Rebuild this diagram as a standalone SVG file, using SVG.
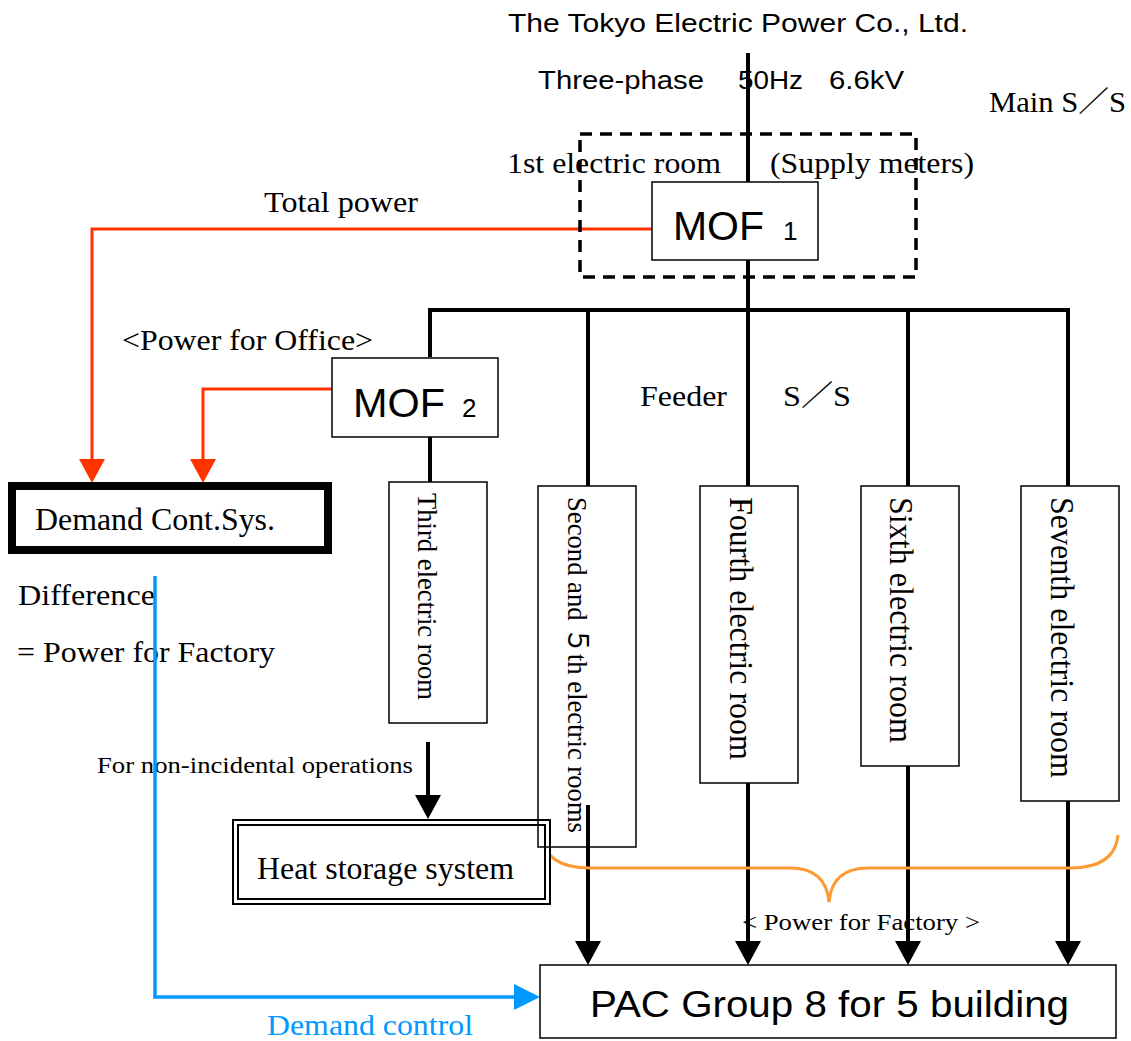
<svg xmlns="http://www.w3.org/2000/svg" width="1131" height="1041" viewBox="0 0 1131 1041">
<style>
.bg{fill:#fff}
.box{fill:#fff;stroke:#000;stroke-width:1.5}
.room{fill:none;stroke:#000;stroke-width:1.5}
.wire{fill:none;stroke:#000;stroke-width:4}
.red{fill:none;stroke:#ff3300;stroke-width:3}
.blue{fill:none;stroke:#0099ff;stroke-width:3.5}
.brace{fill:none;stroke:#ff9933;stroke-width:3}
.serif{font-family:"Liberation Serif","Noto Sans CJK JP",serif;fill:#000}
.sans{font-family:"Liberation Sans","Noto Sans CJK JP",sans-serif;fill:#000}
</style>
<defs>
<marker id="ab" markerUnits="userSpaceOnUse" markerWidth="26" markerHeight="26" refX="2" refY="13" orient="auto"><path d="M0,0 L24,13 L0,26 z" fill="#000"/></marker>
<marker id="ar" markerUnits="userSpaceOnUse" markerWidth="26" markerHeight="26" refX="2" refY="13" orient="auto"><path d="M0,0 L24,13 L0,26 z" fill="#ff3300"/></marker>
<marker id="abl" markerUnits="userSpaceOnUse" markerWidth="28" markerHeight="26" refX="2" refY="13" orient="auto"><path d="M0,0 L26,13 L0,26 z" fill="#0099ff"/></marker>
</defs>
<rect class="bg" x="0" y="0" width="1131" height="1041"/>

<g id="labels">
<text class="sans" x="508" y="32" font-size="25" textLength="460" lengthAdjust="spacingAndGlyphs">The Tokyo Electric Power Co., Ltd.</text>
<text class="sans" x="538" y="89" font-size="25" textLength="166" lengthAdjust="spacingAndGlyphs">Three-phase</text>
<text class="sans" x="738" y="89" font-size="25" textLength="65" lengthAdjust="spacingAndGlyphs">50Hz</text>
<text class="sans" x="829" y="89" font-size="25" textLength="75" lengthAdjust="spacingAndGlyphs">6.6kV</text>
<text class="serif" x="989" y="112" font-size="29" textLength="137" lengthAdjust="spacingAndGlyphs">Main S／S</text>
<text class="serif" x="507" y="173" font-size="29" textLength="214" lengthAdjust="spacingAndGlyphs">1st electric room</text>
<text class="serif" x="770" y="173" font-size="29" textLength="204" lengthAdjust="spacingAndGlyphs">(Supply meters)</text>
<text class="serif" x="264" y="212" font-size="29" textLength="154" lengthAdjust="spacingAndGlyphs">Total power</text>
<text class="serif" x="122" y="350" font-size="29" textLength="251" lengthAdjust="spacingAndGlyphs">&lt;Power for Office&gt;</text>
<text class="serif" x="640" y="406" font-size="29" textLength="87" lengthAdjust="spacingAndGlyphs">Feeder</text>
<text class="serif" x="783" y="406" font-size="29" textLength="68" lengthAdjust="spacingAndGlyphs">S／S</text>
<text class="serif" x="18" y="605" font-size="29" textLength="137" lengthAdjust="spacingAndGlyphs">Difference</text>
<text class="serif" x="17" y="662" font-size="29" textLength="258" lengthAdjust="spacingAndGlyphs">= Power for Factory</text>
<text class="serif" x="97" y="773" font-size="23" textLength="316" lengthAdjust="spacingAndGlyphs">For non-incidental operations</text>
<text class="serif" x="742" y="930" font-size="23" textLength="238" lengthAdjust="spacingAndGlyphs">&lt; Power for Factory &gt;</text>
<text class="serif" x="267" y="1035" font-size="29" textLength="206" lengthAdjust="spacingAndGlyphs" style="fill:#0099ff">Demand control</text>
</g>

<g id="connectors">
<line class="wire" x1="748" y1="53" x2="748" y2="486"/>
<polyline class="wire" points="430,357 430,310 1068,310 1068,486"/>
<line class="wire" x1="588" y1="310" x2="588" y2="486"/>
<line class="wire" x1="908" y1="310" x2="908" y2="486"/>
<line class="wire" x1="430" y1="437" x2="430" y2="482"/>
<line class="wire" x1="428" y1="742" x2="428" y2="797" marker-end="url(#ab)"/>
<line class="wire" x1="588" y1="805" x2="588" y2="943" marker-end="url(#ab)"/>
<line class="wire" x1="748" y1="742" x2="748" y2="943" marker-end="url(#ab)"/>
<line class="wire" x1="908" y1="742" x2="908" y2="943" marker-end="url(#ab)"/>
<line class="wire" x1="1068" y1="742" x2="1068" y2="943" marker-end="url(#ab)"/>
<polyline class="red" points="652,229 92,229 92,461" marker-end="url(#ar)"/>
<polyline class="red" points="332,389 203,389 203,461" marker-end="url(#ar)"/>
<polyline class="blue" points="155,576 155,997 516,997" marker-end="url(#abl)"/>
<path class="brace" d="M541,835 Q545,868 590,868 L790,868 Q826,868 829,902 Q832,868 868,868 L1070,868 Q1115,868 1118,835"/>
</g>

<g id="main-ss">
<rect x="580" y="134" width="336" height="143" fill="none" stroke="#000" stroke-width="3.5" stroke-dasharray="12,8"/>
</g>

<g id="mof1">
<rect class="box" x="652" y="182" width="166" height="78"/>
<text class="sans" x="673" y="240" font-size="41" textLength="91" lengthAdjust="spacingAndGlyphs">MOF</text>
<text class="sans" x="783" y="240" font-size="26">1</text>
</g>

<g id="mof2">
<rect class="box" x="332" y="358" width="166" height="79"/>
<text class="sans" x="353" y="417" font-size="41" textLength="92" lengthAdjust="spacingAndGlyphs">MOF</text>
<text class="sans" x="462" y="417" font-size="26">2</text>
</g>

<g id="demand-cont">
<rect x="12" y="486" width="316" height="64" fill="#fff" stroke="#000" stroke-width="8"/>
<text class="serif" x="35" y="530" font-size="31" textLength="240" lengthAdjust="spacingAndGlyphs">Demand Cont.Sys.</text>
</g>

<g id="heat-storage">
<rect x="233" y="820" width="317" height="84" fill="#fff" stroke="#000" stroke-width="2"/>
<rect x="238" y="825" width="307" height="74" fill="none" stroke="#000" stroke-width="2"/>
<text class="serif" x="257" y="879" font-size="31" textLength="257" lengthAdjust="spacingAndGlyphs">Heat storage system</text>
</g>

<g id="third-room">
<rect class="box" x="389" y="482" width="98" height="241"/>
<text class="serif" font-size="28" textLength="207" lengthAdjust="spacingAndGlyphs" transform="translate(418,493) rotate(90)">Third electric room</text>
</g>

<g id="second-fifth-room">
<rect class="room" x="538" y="486" width="98" height="361"/>
<text class="serif" font-size="28" textLength="336" lengthAdjust="spacingAndGlyphs" transform="translate(568,497) rotate(90)">Second and ５th electric rooms</text>
</g>

<g id="fourth-room">
<rect class="box" x="700" y="486" width="98" height="297"/>
<text class="serif" font-size="34" textLength="263" lengthAdjust="spacingAndGlyphs" transform="translate(730,497) rotate(90)">Fourth electric room</text>
</g>

<g id="sixth-room">
<rect class="box" x="861" y="486" width="98" height="280"/>
<text class="serif" font-size="34" textLength="246" lengthAdjust="spacingAndGlyphs" transform="translate(890,497) rotate(90)">Sixth electric room</text>
</g>

<g id="seventh-room">
<rect class="box" x="1021" y="486" width="98" height="315"/>
<text class="serif" font-size="34" textLength="281" lengthAdjust="spacingAndGlyphs" transform="translate(1051,497) rotate(90)">Seventh electric room</text>
</g>

<g id="pac-group">
<rect class="box" x="540" y="965" width="576" height="73"/>
<text class="sans" x="590" y="1017" font-size="37" textLength="479" lengthAdjust="spacingAndGlyphs">PAC Group 8 for 5 building</text>
</g>
</svg>
